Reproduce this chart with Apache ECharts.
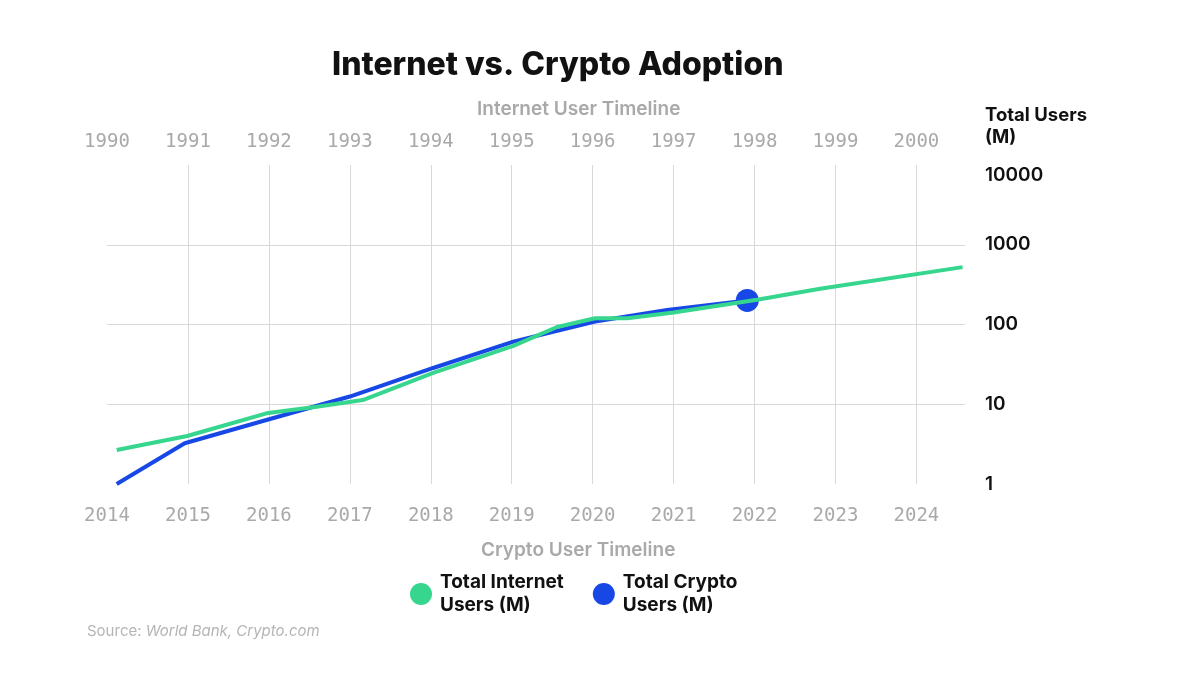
<!DOCTYPE html>
<html>
<head>
<meta charset="utf-8">
<script src="https://cdn.jsdelivr.net/npm/echarts@6/dist/echarts.min.js"></script>
<style>
html,body{margin:0;padding:0;background:#fff;}
#chart{width:1200px;height:675px;}
</style>
</head>
<body>
<div id="chart"></div>
<script>
// Internet timeline (top axis, 1990-2000)
const internetYears = [1990.12, 1990.99, 1991.97, 1992.59, 1993.16, 1994.03, 1995.02, 1995.56, 1996.03, 1996.43, 1997.0, 1998.03, 1998.81, 2000.57];
const internetUsers = [2.67, 4.0, 7.7, 9.3, 11.3, 24.7, 54, 93, 120, 120, 141, 204, 280, 524];
// Crypto timeline (bottom axis, 2014-2024)
const cryptoYears = [2014.12, 2014.96, 2015.97, 2017.0, 2018.03, 2019.02, 2020.03, 2020.92, 2021.91];
const cryptoUsers = [1.0, 3.24, 6.35, 12.5, 28.5, 61, 109, 152, 200];
// Tick labels
const yTicks = [1, 10, 100, 1000, 10000];

const GREEN = '#36d68f';
const BLUE = '#1748e6';
const internetName = 'Total Internet\nUsers (M)';
const cryptoName = 'Total Crypto\nUsers (M)';

const chart = echarts.init(document.getElementById('chart'));
const xLabel = {
  color: '#a9a9a9',
  fontFamily: 'DejaVu Sans Mono',
  fontSize: 19,
  formatter: v => Number.isInteger(v) ? String(v) : ''
};
chart.setOption({
  backgroundColor: '#fff',
  animation: false,
  title: [
    { text: 'Internet vs. Crypto Adoption', left: 332, top: 49, padding: 0,
      textStyle: { fontFamily: 'Inter', fontWeight: 800, fontSize: 32, color: '#111' } },
    { text: 'Internet User Timeline', left: 477, top: 100, padding: 0,
      textStyle: { fontFamily: 'Inter', fontWeight: 600, fontSize: 19, color: '#a9a9a9' } },
    { text: 'Crypto User Timeline', left: 481, top: 541, padding: 0,
      textStyle: { fontFamily: 'Inter', fontWeight: 600, fontSize: 19, color: '#a9a9a9' } },
    { text: 'Total Users\n(M)', left: 985, top: 104, padding: 0,
      textStyle: { fontFamily: 'Inter', fontWeight: 700, fontSize: 18.5, lineHeight: 22, color: '#111' } },
    { text: '{n|Source: }{i|World Bank, Crypto.com}', left: 87, top: 624, padding: 0,
      textStyle: { rich: {
        n: { fontFamily: 'Inter', fontWeight: 400, fontSize: 15, color: '#b5b5b5' },
        i: { fontFamily: 'Inter', fontWeight: 400, fontSize: 15, color: '#b5b5b5', fontStyle: 'italic' }
      } } }
  ],
  legend: {
    data: [internetName, cryptoName],
    left: 410, top: 571, padding: 0,
    icon: 'circle',
    itemWidth: 22, itemHeight: 22, itemGap: 29,
    textStyle: { fontFamily: 'Inter', fontWeight: 700, fontSize: 19, lineHeight: 23, color: '#111', padding: [0, 0, 0, 3] }
  },
  grid: { left: 107, right: 235, top: 165, bottom: 191 },
  xAxis: [
    { type: 'value', position: 'bottom', min: 2014, max: 2024.6, interval: 1,
      axisLine: { show: false }, axisTick: { show: false },
      axisLabel: Object.assign({ margin: 23, showMaxLabel: false }, xLabel),
      splitLine: { show: true, showMinLine: false, showMaxLine: false, lineStyle: { color: '#d9d9d9', width: 1 } } },
    { type: 'value', position: 'top', min: 1990, max: 2000.6, interval: 1,
      axisLine: { show: false }, axisTick: { show: false },
      axisLabel: Object.assign({ margin: 13, showMaxLabel: false }, xLabel),
      splitLine: { show: false } }
  ],
  yAxis: {
    type: 'log', logBase: 10, min: yTicks[0], max: yTicks[yTicks.length - 1],
    position: 'right',
    axisLine: { show: false }, axisTick: { show: false },
    axisLabel: {
      margin: 20, color: '#111', fontFamily: 'Inter', fontWeight: 600, fontSize: 19,
      formatter: v => (v === 10000 ? '{top|' + v + '}' : String(v)),
      rich: { top: { fontFamily: 'Inter', fontWeight: 600, fontSize: 19, color: '#111', padding: [20, 0, 0, 0] } }
    },
    splitLine: { show: true, showMinLine: false, showMaxLine: false, lineStyle: { color: '#d9d9d9', width: 1 } }
  },
  series: [
    { name: cryptoName, type: 'line', xAxisIndex: 0,
      data: cryptoYears.map((y, i) => [y, cryptoUsers[i]]),
      color: BLUE,
      lineStyle: { width: 4, color: BLUE },
      itemStyle: { color: BLUE },
      showSymbol: true, symbol: 'circle',
      symbolSize: (v, p) => (p.dataIndex === cryptoYears.length - 1 ? 23 : 0),
      z: 2 },
    { name: internetName, type: 'line', xAxisIndex: 1,
      data: internetYears.map((y, i) => [y, internetUsers[i]]),
      color: GREEN,
      lineStyle: { width: 4, color: GREEN },
      itemStyle: { color: GREEN },
      showSymbol: false, symbol: 'circle',
      z: 3 }
  ]
});
</script>
</body>
</html>
